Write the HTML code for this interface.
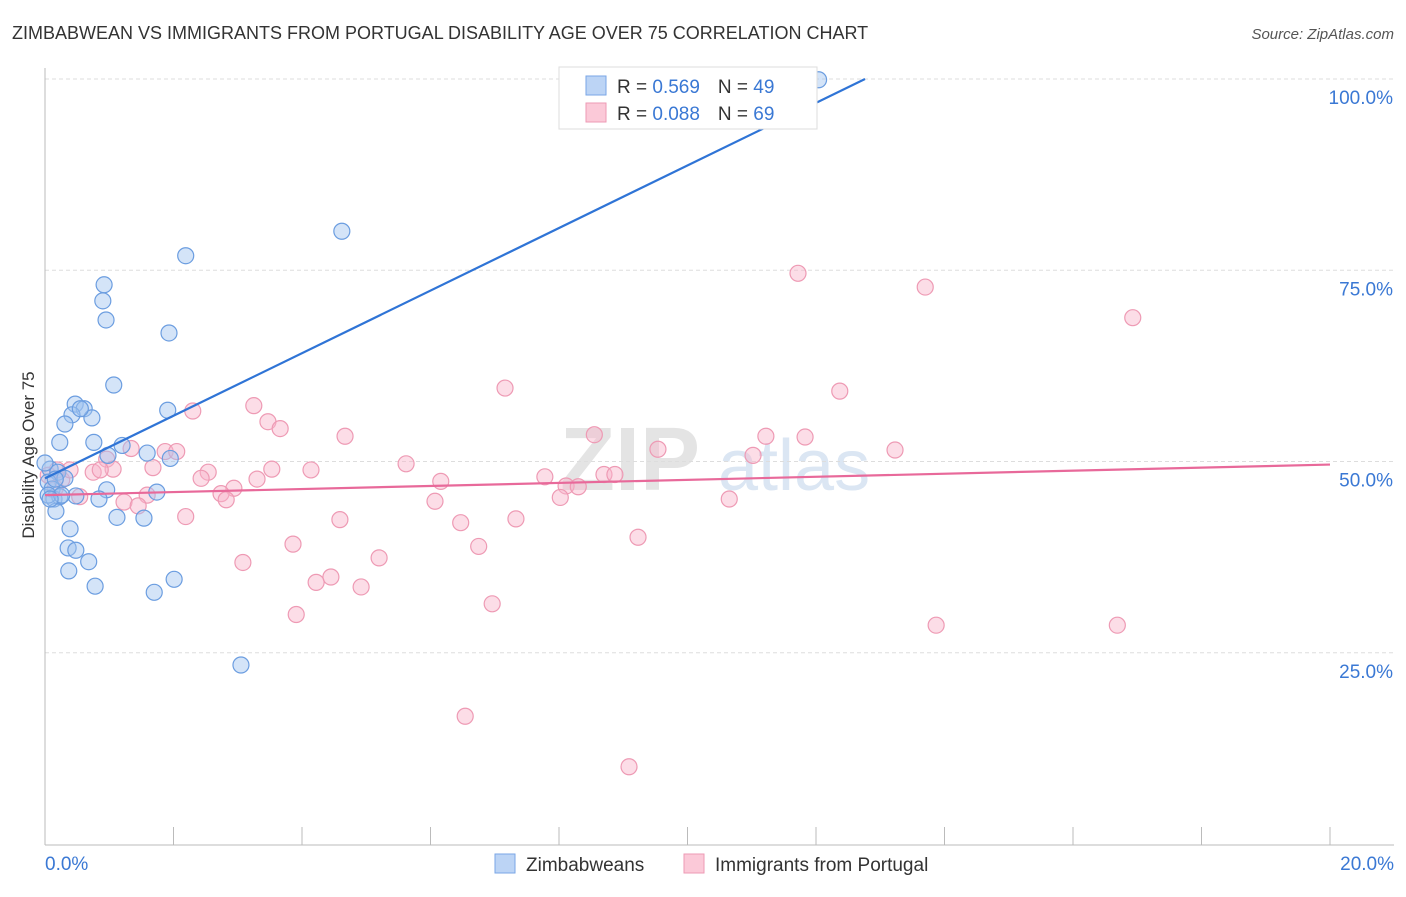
<!DOCTYPE html>
<html><head><meta charset="utf-8"><style>
body{margin:0;background:#fff;font-family:"Liberation Sans",sans-serif;}
svg text{font-family:"Liberation Sans",sans-serif;}
</style></head><body>
<svg width="1406" height="892" xmlns="http://www.w3.org/2000/svg">
<text x="12" y="39" font-size="18" fill="#333">ZIMBABWEAN VS IMMIGRANTS FROM PORTUGAL DISABILITY AGE OVER 75 CORRELATION CHART</text>
<text x="1394" y="39" font-size="15" fill="#555" font-style="italic" text-anchor="end">Source: ZipAtlas.com</text>
<g><text x="560" y="490" font-size="90" font-family="Liberation Serif" fill="#e4e4e4" font-weight="bold">ZIP</text><text x="718" y="490" font-size="72" fill="#dbe6f3">atlas</text></g>
<g id="grid"></g>
<g id="axes"></g>
<g id="pts"></g>
<g id="lines"></g>
<text transform="translate(34,455) rotate(-90)" font-size="17" fill="#333" text-anchor="middle">Disability Age Over 75</text>
<g>
<rect x="559" y="67" width="258" height="62" fill="#fff" stroke="#ddd"/>
<rect x="586" y="76" width="20" height="19" fill="#bcd4f5" stroke="#7aa6e6"/>
<rect x="586" y="103" width="20" height="19" fill="#fbc9d8" stroke="#ee9ab4"/>
<text x="617" y="93" font-size="19" fill="#333">R = <tspan fill="#3a78d4">0.569</tspan><tspan dx="18">N = </tspan><tspan fill="#3a78d4">49</tspan></text>
<text x="617" y="120" font-size="19" fill="#333">R = <tspan fill="#3a78d4">0.088</tspan><tspan dx="18">N = </tspan><tspan fill="#3a78d4">69</tspan></text>
</g>
<g>
<rect x="495" y="854" width="20" height="19" fill="#bcd4f5" stroke="#7aa6e6"/>
<text x="526" y="871" font-size="19" fill="#333">Zimbabweans</text>
<rect x="684" y="854" width="20" height="19" fill="#fbc9d8" stroke="#ee9ab4"/>
<text x="715" y="871" font-size="19" fill="#333">Immigrants from Portugal</text>
</g>
</svg>
<script>
const blueX=[12.04,4.62,2.19,0.92,0.90,0.95,1.93,1.07,0.47,0.61,0.42,0.73,0.31,1.91,0.23,0.76,1.20,1.59,0.98,1.95,0.08,0.20,0.31,0.05,0.11,0.96,1.74,0.48,0.14,0.84,0.23,0.17,1.12,1.54,0.39,0.36,0.48,0.68,0.37,0.78,2.01,1.70,3.05,0.05,0.26,0.0,0.55,0.16,0.08];
const blueY=[99.9,80.1,76.9,73.1,71.0,68.5,66.8,60.0,57.5,56.9,56.1,55.7,54.9,56.7,52.5,52.5,52.1,51.1,50.8,50.4,49.0,48.6,47.8,47.3,46.4,46.3,46.0,45.5,45.1,45.1,45.4,43.5,42.7,42.6,41.2,38.7,38.4,36.9,35.7,33.7,34.6,32.9,23.4,45.6,45.6,49.8,56.9,47.7,45.1];
const pinkX=[11.72,13.70,16.93,7.16,12.37,2.30,3.25,3.47,3.66,4.67,8.55,11.22,11.83,9.54,13.23,1.34,1.87,2.05,0.96,11.02,1.68,0.75,1.06,2.54,3.53,4.14,5.62,2.43,3.30,6.16,7.78,8.70,8.87,8.11,8.30,2.94,2.74,2.82,1.59,0.54,1.23,1.45,6.07,8.02,10.65,2.19,4.59,6.47,7.33,3.86,6.75,9.23,5.20,3.08,4.45,4.22,4.92,3.91,6.96,13.87,16.69,6.54,9.09,0.16,0.26,0.39,0.05,0.19,0.86];
const pinkY=[74.6,72.8,68.8,59.6,59.2,56.6,57.3,55.2,54.3,53.3,53.5,53.3,53.2,51.6,51.5,51.7,51.3,51.3,50.3,50.8,49.2,48.6,49.0,48.6,49.0,48.9,49.7,47.8,47.7,47.4,48.0,48.3,48.3,46.8,46.7,46.5,45.8,45.0,45.6,45.4,44.7,44.2,44.8,45.3,45.1,42.8,42.4,42.0,42.5,39.2,38.9,40.1,37.4,36.8,34.9,34.2,33.6,30.0,31.4,28.6,28.6,16.7,10.1,46.5,47.6,48.9,48.2,48.9,48.9];
const yTicks=[25,50,75,100];
const yTickLabels=["25.0%","50.0%","75.0%","100.0%"];
const xTicks=[0,2,4,6,8,10,12,14,16,18,20];
const blueLine=[47.8,4.09]; // intercept, slope per %
const pinkLine=[45.6,0.2];
const NS="http://www.w3.org/2000/svg";
const X=v=>45+v*64.25, Y=v=>844-v*7.65;
function mk(tag,attrs,parent){const e=document.createElementNS(NS,tag);for(const k in attrs)e.setAttribute(k,attrs[k]);parent.appendChild(e);return e;}
const grid=document.getElementById('grid'),axes=document.getElementById('axes'),pts=document.getElementById('pts'),lines=document.getElementById('lines');
yTicks.forEach((t,i)=>{
 const l=mk('line',{x1:45,x2:1394,y1:Y(t),y2:Y(t),stroke:'#ddd','stroke-dasharray':'4,3'},grid);
 
 
 const tx=mk('text',{x:1393,y:Y(t)+25,'font-size':19,fill:'#3a78d4','text-anchor':'end'},axes);
 tx.textContent=yTickLabels[i];
 
 
});
mk('line',{x1:45,x2:45,y1:68,y2:845,stroke:'#bbb'},axes);
mk('line',{x1:45,x2:1394,y1:845,y2:845,stroke:'#bbb'},axes);
xTicks.forEach(t=>{
 const l=mk('line',{x1:X(t),x2:X(t),y1:827,y2:845,stroke:'#bbb'},axes);
 
 
});
let a=mk('text',{x:45,y:870,'font-size':19,fill:'#3a78d4'},axes);a.textContent='0.0%';


a=mk('text',{x:1394,y:870,'font-size':19,fill:'#3a78d4','text-anchor':'end'},axes);a.textContent='20.0%';


pinkX.forEach((x,i)=>{
 const c=mk('circle',{cx:X(x),cy:Y(pinkY[i]),r:8,fill:'rgba(248,180,202,0.45)',stroke:'#ee9ab4','stroke-width':1.2},pts);
 
 
});
blueX.forEach((x,i)=>{
 const c=mk('circle',{cx:X(x),cy:Y(blueY[i]),r:8,fill:'rgba(160,196,240,0.45)',stroke:'#6b9de0','stroke-width':1.2},pts);
 
 
});
const bx2=(100-blueLine[0])/blueLine[1];
let ln=mk('line',{x1:X(0),y1:Y(blueLine[0]),x2:X(bx2),y2:Y(100),stroke:'#2f74d6','stroke-width':2.2},lines);


ln=mk('line',{x1:X(0),y1:Y(pinkLine[0]),x2:X(20),y2:Y(pinkLine[0]+20*pinkLine[1]),stroke:'#e8699a','stroke-width':2.2},lines);


</script>
</body></html>
